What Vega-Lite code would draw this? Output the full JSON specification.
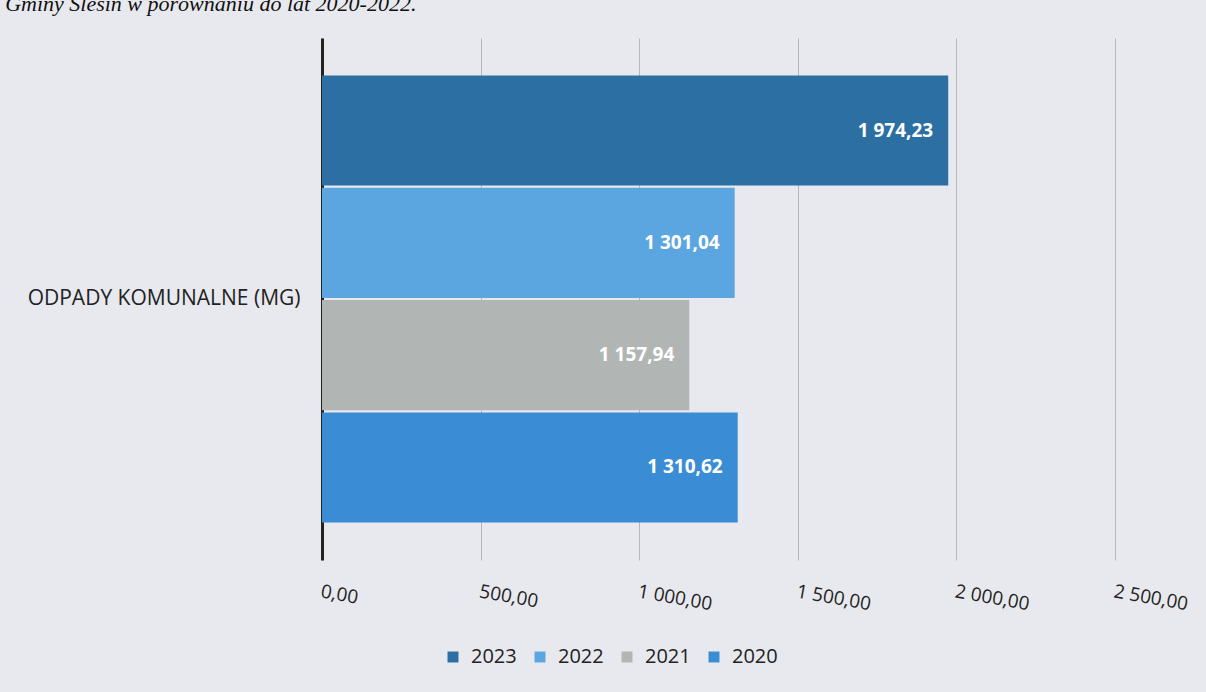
{
  "$schema": "https://vega.github.io/schema/vega-lite/v6.json",
  "width": 793,
  "height": 522,
  "autosize": {"type": "none"},
  "padding": {"left": 322, "top": 38, "right": 91, "bottom": 132},
  "background": "#e8e9ee",
  "title": {
    "text": "Gminy Ślesin w porównaniu do lat 2020-2022.",
    "anchor": "start",
    "frame": "bounds",
    "dx": -22,
    "offset": 22,
    "font": "Liberation Serif",
    "fontStyle": "italic",
    "fontWeight": "normal",
    "fontSize": 22,
    "color": "#111"
  },
  "config": {
    "locale": {"number": {"decimal": ",", "thousands": " ", "grouping": [3], "currency": ["", " zł"]}},
    "view": {"stroke": null},
    "font": "Open Sans"
  },
  "data": {
    "values": [
      {"cat": "ODPADY KOMUNALNE (MG)", "year": "2023", "value": 1974.23},
      {"cat": "ODPADY KOMUNALNE (MG)", "year": "2022", "value": 1301.04},
      {"cat": "ODPADY KOMUNALNE (MG)", "year": "2021", "value": 1157.94},
      {"cat": "ODPADY KOMUNALNE (MG)", "year": "2020", "value": 1310.62}
    ]
  },
  "encoding": {
    "x": {
      "field": "value",
      "type": "quantitative",
      "scale": {"domain": [0, 2500], "nice": false},
      "axis": {
        "title": null,
        "values": [0, 500, 1000, 1500, 2000, 2500],
        "format": ",.2f",
        "grid": true,
        "gridColor": "#b5b7bb",
        "gridWidth": 1,
        "domain": false,
        "ticks": false,
        "labelAngle": 10,
        "labelAlign": "left",
        "labelBaseline": "top",
        "labelPadding": 22,
        "labelFont": "Open Sans",
        "labelFontSize": 19,
        "labelColor": "#222",
        "labelFlush": false,
        "labelOverlap": false
      }
    },
    "y": {
      "field": "cat",
      "type": "nominal",
      "scale": {"paddingInner": 0, "paddingOuter": 0.084},
      "axis": {
        "title": null,
        "domain": true,
        "domainColor": "#222",
        "domainWidth": 3,
        "ticks": false,
        "labelFont": "Open Sans",
        "labelFontSize": 21,
        "labelColor": "#222",
        "labelPadding": 22,
        "labelLimit": 400
      }
    },
    "yOffset": {
      "field": "year",
      "type": "nominal",
      "sort": ["2023", "2022", "2021", "2020"],
      "scale": {"paddingInner": 0.02}
    }
  },
  "layer": [
    {
      "mark": {"type": "bar"},
      "encoding": {
        "color": {
          "field": "year",
          "type": "nominal",
          "scale": {
            "domain": ["2023", "2022", "2021", "2020"],
            "range": ["#2b6fa3", "#5ba6e0", "#b1b5b3", "#3a8dd4"]
          },
          "legend": {
            "title": null,
            "orient": "none",
            "direction": "horizontal",
            "legendX": 121,
            "legendY": 609,
            "symbolType": "square",
            "symbolSize": 120,
            "symbolStrokeWidth": 0,
            "labelFont": "Open Sans",
            "labelFontSize": 20,
            "labelColor": "#222",
            "columnPadding": 13,
            "labelOffset": 8
          }
        }
      }
    },
    {
      "mark": {"type": "text", "align": "right", "baseline": "middle", "dx": -15, "color": "white", "fontWeight": "bold", "fontSize": 19, "font": "Open Sans"},
      "encoding": {
        "text": {"field": "value", "type": "quantitative", "format": ",.2f"}
      }
    }
  ]
}
